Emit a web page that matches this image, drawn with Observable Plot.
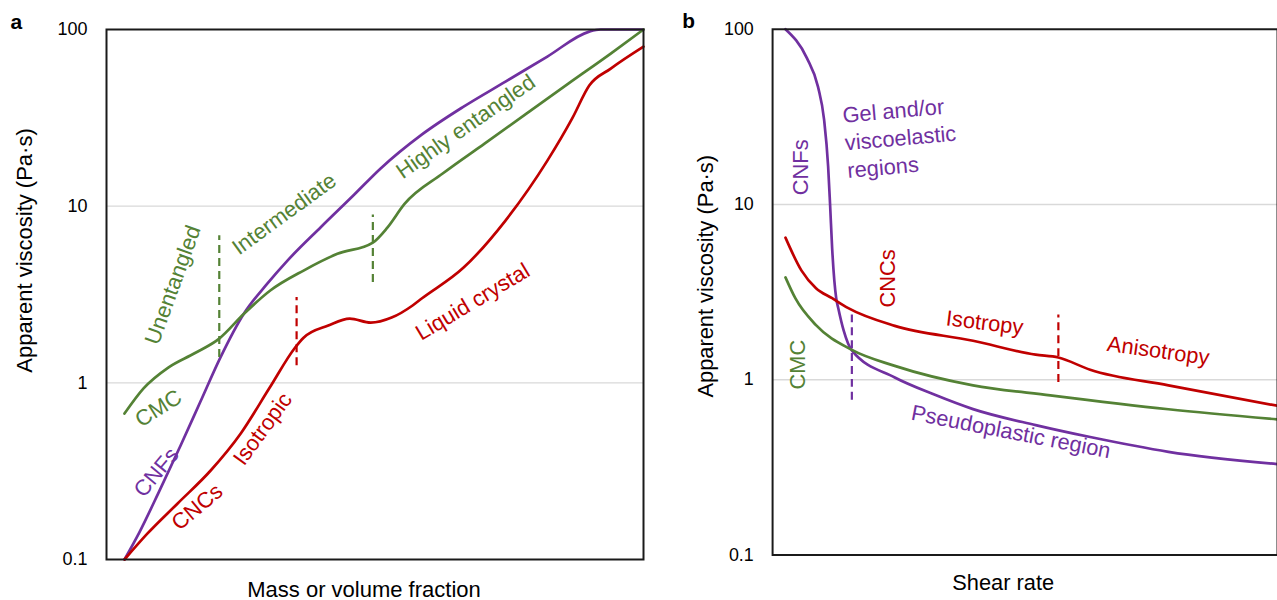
<!DOCTYPE html>
<html><head><meta charset="utf-8">
<script src="https://cdn.jsdelivr.net/npm/d3@7"></script>
<script src="https://cdn.jsdelivr.net/npm/@observablehq/plot@0.6"></script>
<style>
html,body{margin:0;padding:0;background:#fff;overflow:hidden;}
#wrap{position:relative;width:1277px;height:600px;overflow:hidden;background:#fff;}
#pa{position:absolute;left:0;top:0;}
#pb{position:absolute;left:660px;top:0;}
</style></head><body><div id="wrap"><div id="pa"></div><div id="pb"></div></div>
<script>
// ---------- Data ----------
const seriesNames = ["CNFs", "CMC", "CNCs"];
const seriesColors = ["#7030A0", "#548235", "#C00000"];
const yTicks = [0.1, 1, 10, 100];
const yTickLabels = ["0.1", "1", "10", "100"];
const yGrid = [1, 10];

// Panel a: viscosity vs mass or volume fraction (x in arbitrary units 0-100)
const cnfA_x = [3.35, 6.1, 9.7, 13.8, 17.5, 21.2, 25.6, 29.9, 33.7, 39.9, 46.1, 51.0, 58.7, 66.5, 74.3, 82.1, 89.9, 92.0, 100];
const cnfA_y = [0.10, 0.142, 0.239, 0.442, 0.784, 1.39, 2.47, 3.63, 4.92, 7.60, 11.6, 16.3, 25.4, 36.6, 50.7, 70.3, 97.3, 100, 100];
const cmcA_x = [3.35, 6.9, 11.5, 16.4, 21.0, 25.6, 30.5, 36.7, 43.0, 49.6, 52.3, 55.5, 62.6, 70.4, 78.2, 86.0, 93.9, 100];
const cmcA_y = [0.67, 0.93, 1.22, 1.47, 1.78, 2.46, 3.33, 4.32, 5.37, 6.22, 7.56, 10.3, 15.3, 22.6, 33.4, 49.4, 73.1, 100];
const cncA_x = [3.35, 7.6, 13.2, 19.4, 25.0, 30.4, 35.1, 36.7, 41.3, 45.3, 49.2, 53.1, 57.0, 58.7, 66.5, 74.3, 82.1, 86.8, 89.9, 93.9, 100];
const cncA_y = [0.10, 0.14, 0.207, 0.319, 0.517, 0.94, 1.58, 1.80, 2.11, 2.31, 2.19, 2.34, 2.74, 3.0, 4.49, 8.29, 18.1, 31.7, 48.2, 60.1, 80.0];
const dashA_name = ["CMC", "CMC", "CNCs"];
const dashA_x = [21.0, 49.6, 35.4];
const dashA_lo = [1.39, 3.7, 1.25];
const dashA_hi = [6.8, 8.9, 3.04];
const labA_text = ["Unentangled", "Intermediate", "Highly entangled", "CMC", "CNFs", "CNCs", "Isotropic", "Liquid crystal"];
const labA_name = ["CMC", "CMC", "CMC", "CMC", "CNFs", "CNCs", "CNCs", "CNCs"];
const labA_x = [12.4, 33.1, 66.9, 9.7, 9.3, 16.9, 29.1, 68.2];
const labA_y = [3.58, 9.02, 28.2, 0.716, 0.311, 0.198, 0.548, 2.87];
const labA_angle = [-70, -36, -35, -32, -50, -40, -54, -31];

// Panel b: viscosity vs shear rate
const cnfB_x = [2.55, 6.8, 9.0, 10.2, 11.0, 11.4, 11.8, 12.6, 13.0, 14.1, 15.7, 24.2, 31.9, 39.7, 52.1, 62.9, 78.4, 100];
const cnfB_y = [100, 68.4, 46.9, 30.5, 16.5, 9.8, 5.6, 2.92, 2.57, 1.90, 1.47, 1.03, 0.826, 0.68, 0.551, 0.471, 0.388, 0.33];
const cncB_x = [2.55, 5.7, 8.6, 11.8, 14.9, 24.2, 39.7, 52.1, 56.6, 62.9, 78.4, 100];
const cncB_y = [6.47, 4.21, 3.33, 2.92, 2.57, 2.03, 1.67, 1.39, 1.34, 1.14, 0.929, 0.71];
const cmcB_x = [2.55, 4.5, 8.6, 15.7, 24.2, 39.7, 55.0, 78.4, 100];
const cmcB_y = [3.84, 2.92, 2.05, 1.48, 1.20, 0.929, 0.815, 0.679, 0.594];
const dashB_name = ["CNFs", "CNCs"];
const dashB_x = [15.7, 56.6];
const dashB_lo = [0.764, 0.966];
const dashB_hi = [2.47, 2.34];
const labB_text = ["CNFs", "Gel and/or\nviscoelastic\nregions", "CNCs", "Isotropy", "Anisotropy", "CMC", "Pseudoplastic region"];
const labB_name = ["CNFs", "CNFs", "CNCs", "CNCs", "CNCs", "CMC", "CNFs"];
const labB_x = [5.7, 14.3, 22.8, 42.0, 76.4, 5.1, 47.2];
const labB_y = [16.3, 22.9, 3.79, 2.11, 1.46, 1.22, 0.503];
const labB_angle = [-90, -5, -90, 7, 8, -90, 11];
const labB_anchor = ["middle", "start", "middle", "middle", "middle", "middle", "middle"];

// ---------- Helpers ----------
const FONT = "'Liberation Sans', Arial, Helvetica, sans-serif";
function rowsOf(name, xs, ys) { return xs.map((x, i) => ({name, x, y: ys[i]})); }
function dashesOf(names, xs, lo, hi) { return xs.map((x, i) => ({name: names[i], x, y1: lo[i], y2: hi[i]})); }
function labelsOf(texts, names, xs, ys, angles, anchors) {
  return texts.map((t, i) => ({text: t, name: names[i], x: xs[i], y: ys[i], angle: angles[i], anchor: anchors ? anchors[i] : "middle"}));
}
const tickRows = yTicks.map((v, i) => ({v, label: yTickLabels[i]}));

function panel(o) {
  return Plot.plot({
    width: o.width, height: 600,
    marginTop: 29, marginBottom: 41, marginLeft: o.marginLeft, marginRight: o.marginRight,
    style: {fontFamily: FONT, fontSize: "18px", color: "#000", background: "transparent", overflow: "visible"},
    x: {domain: [0, 100], axis: null},
    y: {type: "log", domain: [0.1, 100], axis: null},
    color: {domain: seriesNames, range: seriesColors},
    marks: [
      Plot.ruleY(yGrid, {stroke: "#d9d9d9", strokeWidth: 1.3}),
      Plot.line(o.rows, {x: "x", y: "y", z: "name", stroke: "name", strokeWidth: 2.7, curve: "monotone-x"}),
      Plot.ruleX(o.dashes, {x: "x", y1: "y1", y2: "y2", stroke: "name", strokeWidth: 2.2, strokeDasharray: "8,5"}),
      Plot.text(o.labels.filter(d => d.anchor === "middle"), {x: "x", y: "y", text: "text", fill: "name", rotate: "angle", fontSize: 22, textAnchor: "middle"}),
      Plot.text(o.labels.filter(d => d.anchor === "start"), {x: "x", y: "y", text: "text", fill: "name", rotate: "angle", fontSize: 22, textAnchor: "start", lineHeight: 1.27}),
      Plot.frame({stroke: "#1a1a1a", strokeWidth: 2}),
      // y tick labels
      Plot.text(tickRows, {y: "v", text: "label", frameAnchor: "left", dx: -19, textAnchor: "end", fontSize: 18, fill: "#000"}),
      Plot.text([o.yLabel], {text: d => d, frameAnchor: "left", dx: o.yLabelDx, dy: o.yLabelDy, rotate: -90, textAnchor: "middle", fontSize: 22, fill: "#000"}),
      Plot.text([o.xLabel], {text: d => d, frameAnchor: "bottom", dx: o.xLabelDx, dy: o.xLabelDy, textAnchor: "middle", fontSize: 22, fill: "#000"}),
      Plot.text([o.letter], {text: d => d, frameAnchor: "top-left", dx: o.letterDx, dy: -1, textAnchor: "start", lineAnchor: "bottom", fontSize: 21, fontWeight: "bold", fill: "#000"})
    ]
  });
}

const rowsA = [...rowsOf("CNFs", cnfA_x, cnfA_y), ...rowsOf("CMC", cmcA_x, cmcA_y), ...rowsOf("CNCs", cncA_x, cncA_y)];
const rowsB = [...rowsOf("CNFs", cnfB_x, cnfB_y), ...rowsOf("CMC", cmcB_x, cmcB_y), ...rowsOf("CNCs", cncB_x, cncB_y)];

document.getElementById("pa").append(panel({
  width: 660, marginLeft: 106, marginRight: 17,
  rows: rowsA,
  dashes: dashesOf(dashA_name, dashA_x, dashA_lo, dashA_hi),
  labels: labelsOf(labA_text, labA_name, labA_x, labA_y, labA_angle),
  yLabel: "Apparent viscosity (Pa·s)", yLabelDx: -82, yLabelDy: -44,
  xLabel: "Mass or volume fraction", xLabelDx: -11, xLabelDy: 37,
  letter: "a", letterDx: -96
}));
document.getElementById("pb").append(panel({
  width: 622, marginLeft: 113, marginRight: 0,
  rows: rowsB,
  dashes: dashesOf(dashB_name, dashB_x, dashB_lo, dashB_hi),
  labels: labelsOf(labB_text, labB_name, labB_x, labB_y, labB_angle, labB_anchor),
  yLabel: "Apparent viscosity (Pa·s)", yLabelDx: -67, yLabelDy: -16,
  xLabel: "Shear rate", xLabelDx: -22, xLabelDy: 35,
  letter: "b", letterDx: -91
}));
</script></body></html>
